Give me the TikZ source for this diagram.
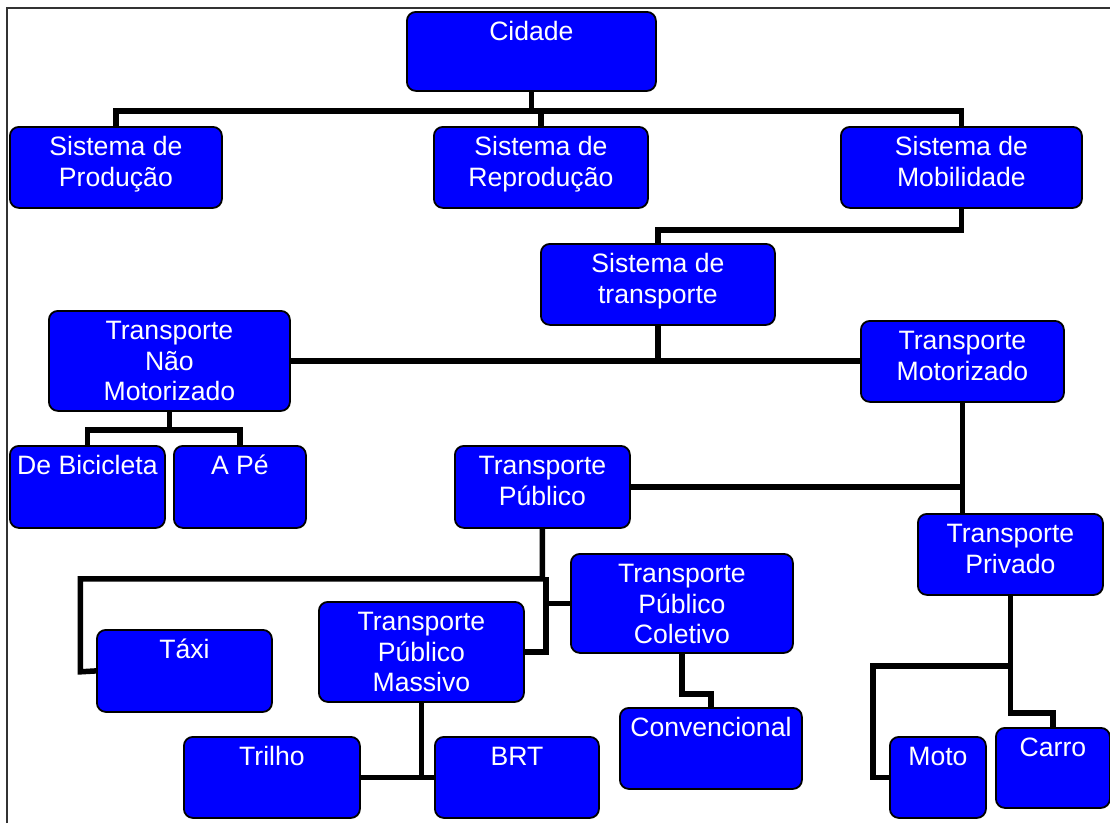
\documentclass[tikz,border=0pt]{standalone}
\usepackage{fontspec}
\setmainfont{Liberation Sans}
\usepackage{xcolor}
\usepackage{tikz}
\usetikzlibrary{positioning}
\definecolor{unitblue}{RGB}{0,0,255}
\newcommand{\unitfont}{\fontsize{26.6}{30.5}\selectfont}

\begin{document}
\begin{tikzpicture}[x=1pt, y=-1pt,
									unit/.style = {draw=black, fill=unitblue, text=white, font=\unitfont, align=center, line width=1.8pt, rounded corners=9pt, anchor=north west, inner xsep=0pt, inner ysep=0pt, text height=29pt, text depth=52pt},
									two/.style = {text height=59.5pt, text depth=21.5pt},
									three/.style = {text height=90pt, text depth=10pt},
									link/.style = {-, line width=5.5pt, draw=black}]
					\useasboundingbox (0,0) rectangle (1110,823);
					\draw[line width=1.5pt, draw=black!80] (7,823) -- (7,8) -- (1110,8);

					\node[unit, minimum width=249pt, text depth=50pt] (cidade) at (406, 11) {Cidade};
					\node[unit, two, minimum width=212pt] (producao) at (9, 126) {Sistema de\\Produção};
					\node[unit, two, minimum width=214pt] (reproducao) at (433, 126) {Sistema de\\Reprodução};
					\node[unit, two, minimum width=241pt] (mobilidade) at (840, 126) {Sistema de\\Mobilidade};
					\node[unit, two, minimum width=234pt] (transp) at (540, 243) {Sistema de\\transporte};
					\node[unit, three, minimum width=241pt] (naomotor) at (48, 310) {Transporte\\Não\\Motorizado};
					\node[unit, two, minimum width=203pt] (motor) at (860, 320) {Transporte\\Motorizado};
					\node[unit, minimum width=155pt, text depth=53pt] (bici) at (9, 445) {De Bicicleta};
					\node[unit, minimum width=132pt, text depth=53pt] (ape) at (173, 445) {A Pé};
					\node[unit, two, minimum width=175pt, text depth=22.5pt] (publico) at (454, 445) {Transporte\\Público};
					\node[unit, two, minimum width=185pt] (privado) at (917, 513) {Transporte\\Privado};
					\node[unit, minimum width=175pt, text depth=53pt] (taxi) at (96, 629) {Táxi};
					\node[unit, three, minimum width=205pt] (massivo) at (318, 601) {Transporte\\Público\\Massivo};
					\node[unit, three, minimum width=222pt, text depth=9pt] (coletivo) at (570, 553) {Transporte\\Público\\Coletivo};
					\node[unit, minimum width=182pt] (conv) at (619, 707) {Convencional};
					\node[unit, minimum width=176pt] (trilho) at (183, 736) {Trilho};
					\node[unit, minimum width=164pt] (brt) at (434, 736) {BRT};
					\node[unit, minimum width=96pt] (moto) at (889, 736) {Moto};
					\node[unit, minimum width=114pt, text depth=51pt] (carro) at (995, 727) {Carro};

					\draw[link] (cidade.south) -- ++(0,21);
					\draw[link] (reproducao.north) -- ++(0,-15);
					\draw[link] (producao.north) -- ++(0,-15) -| (mobilidade.north);

					\draw[link] (mobilidade.south) -- ++(0,21) -| (transp.north);
					\draw[link] (naomotor.east) -- (naomotor.east -| motor.west);
					\draw[link] (transp.south) -- (transp.south |- naomotor.east);

					\draw[link] (naomotor.south) -- ++(0,20);
					\draw[link] (bici.north) -- ++(0,-15) -| (ape.north);

					\draw[link] (motor.south) -- (motor.south |- privado.north);
					\draw[link] (publico.east) -- (publico.east -| motor.south);

					\draw[link] (publico.south) -- ++(0,50) -- ++(-462,0) -- ++(0,93) -- (taxi.west);
					\draw[link] (massivo.east) -- ++(21,0) coordinate (knee) -- ++(0,-75);
					\draw[link] (coletivo.west) -- (coletivo.west -| knee);
					\draw[link] (coletivo.south) -- ++(0,40) -| (conv.north);

					\draw[link] (massivo.south) -- (massivo.south |- trilho.east);
					\draw[link] (trilho.east) -- (brt.west);

					\draw[link] (privado.south) -- ++(0,70) -| ([xshift=-16pt]moto.west) -- (moto.west);
					\draw[link] (privado.south) -- ++(0,117) -| (carro.north);
				\end{tikzpicture}
\end{document}
